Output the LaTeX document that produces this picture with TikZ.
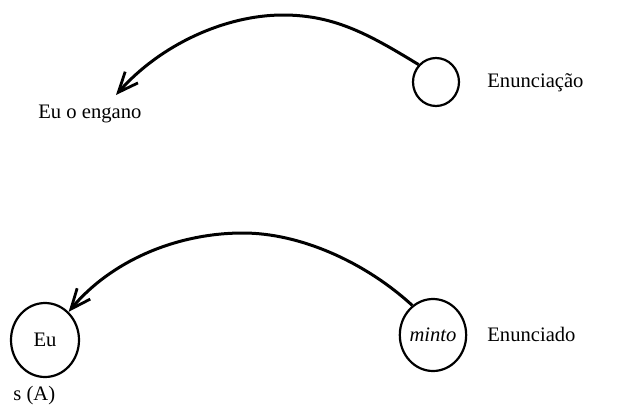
\documentclass[tikz,border=0pt]{standalone}
\usepackage{fontspec}
\setmainfont{Liberation Serif}
\usetikzlibrary{arrows.meta,shapes.geometric}
\begin{document}
\begin{tikzpicture}[x=0.5pt,y=-0.5pt,
  circ/.style={draw, line width=1.1pt, ellipse, inner sep=0pt},
  lbl/.style={font=\fontsize{10.3}{12}\selectfont, inner sep=0pt},
  conn/.style={line width=1.5pt, -{Straight Barb[length=10pt,width=8.5pt,line width=1.4pt]}}]
\useasboundingbox (0,0) rectangle (628,408);
% top row
\node[circ, minimum width=23pt, minimum height=24pt] (c1) at (436,82) {};
\node[lbl, anchor=base west] (enunciacao) at (487,87) {Enunciação};
\node[lbl, anchor=base west] (engano) at (38,118) {Eu o engano};
\coordinate (t1) at (116,95);
\draw[conn] (c1.135) .. controls (370,35) and (335,15) .. (283,15)
  .. controls (225,15) and (160,45) .. (t1);
% bottom row
\node[circ, minimum width=32pt, minimum height=36pt, lbl] (m) at (433,335) {\itshape minto};
\node[circ, minimum width=34pt, minimum height=37pt, lbl] (e) at (45,340) {Eu};
\node[lbl, anchor=base west] (enunciado) at (487,341) {Enunciado};
\node[lbl, anchor=base west] (sa) at (13,400) {s (A)};
\draw[conn] (m.125) .. controls (365,262) and (300,233) .. (243,233)
  .. controls (175,233) and (110,262) .. (e.50);
\end{tikzpicture}
\end{document}
